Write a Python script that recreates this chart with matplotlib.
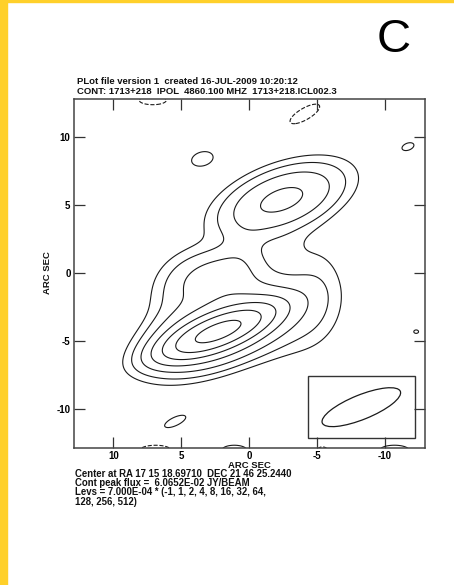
import numpy as np
import matplotlib
matplotlib.use("Agg")
import matplotlib.pyplot as plt
from matplotlib.patches import Ellipse, Rectangle

# ---- data: source components (arcsec, Jy/beam, image PA deg) ----
comp_name = ["S narrow", "S broad", "S ext", "left halo", "mid", "north", "right diffuse", "bridge",
             "east fill", "isl1", "isl2", "isl3", "isl4", "neg top R", "neg top L", "neg bot L",
             "pos bot C", "neg bot R", "pos bot R"]
comp_x    = [2.3, 2.3, -2.5, 5.3, 2.2, -2.4, -5.0, 0.5,
             -2.5, 3.45, -11.7, -12.3, 5.45, -4.1, 7.1, 6.9, 1.1, -5.4, -10.7]
comp_y    = [-4.3, -4.3, -3.0, -1.8, -0.4, 5.4, -1.2, 1.5,
             1.8, 8.4, 9.3, -4.3, -10.9, 11.7, 12.7, -13.0, -13.0, -13.0, -13.0]
comp_amp  = [0.045, 0.0145, 0.0015, 0.0012, 0.0040, 0.0066, 0.0008, 0.0008,
             0.0005, 0.0010, 0.0010, 0.0009, 0.0010, -0.0011, -0.0009, -0.0009, 0.0009, -0.0008, 0.0009]
comp_smaj = [2.2, 2.9, 2.5, 2.0, 2.0, 2.8, 2.6, 1.5,
             1.3, 0.95, 0.53, 0.25, 1.0, 1.3, 1.4, 1.6, 1.3, 0.7, 1.5]
comp_smin = [0.65, 1.3, 2.0, 1.5, 1.3, 1.3, 1.4, 1.0,
             1.0, 0.6, 0.3, 0.18, 0.36, 0.45, 0.45, 0.5, 0.5, 0.45, 0.5]
comp_pa   = [21, 21, 22, 70, 8, 20, 85, 64,
             20, 15, 20, 0, 25, 30, 0, 0, 0, 0, 0]

lev_base = 7.000e-04
lev_mult = [-1, 1, 2, 4, 8, 16, 32, 64, 128, 256, 512]

x_ticks = [10, 5, 0, -5, -10]
y_ticks = [10, 5, 0, -5, -10]

beam_center = (-8.26, -9.85)
beam_major, beam_minor, beam_angle = 6.2, 1.8, 22
beam_box = (-4.35, -12.25, -7.57, -12.13)   # x0, x1, y0, y1

title_lines = ["PLot file version 1  created 16-JUL-2009 10:20:12",
               "CONT: 1713+218  IPOL  4860.100 MHZ  1713+218.ICL002.3"]
foot_lines = ["Center at RA 17 15 18.69710  DEC 21 46 25.2440",
              "Cont peak flux =  6.0652E-02 JY/BEAM",
              "Levs = 7.000E-04 * (-1, 1, 2, 4, 8, 16, 32, 64,",
              "128, 256, 512)"]

W, H = 454, 585
fig = plt.figure(figsize=(W / 100, H / 100), dpi=100)
fig.patch.set_facecolor("white")

# yellow border strips
fig.patches.append(Rectangle((0, 0), 7 / W, 1, transform=fig.transFigure, color="#FFD02A", zorder=0))
fig.patches.append(Rectangle((0, 1 - 1.5 / H), 1, 1.5 / H, transform=fig.transFigure, color="#FFD02A", zorder=0))

def px(x, y):
    return x / W, 1 - y / H

ax = fig.add_axes([74 / W, 1 - 448 / H, (425 - 74) / W, (448 - 99) / H])
xlim = (12.9, -12.95)
ylim = (-12.85, 12.8)

gx = np.linspace(-13.5, 13.5, 540)
gy = np.linspace(-13.5, 13.5, 540)
X, Y = np.meshgrid(gx, gy)
Z = np.zeros_like(X)
for x0, y0, a, sa, sb, pa in zip(comp_x, comp_y, comp_amp, comp_smaj, comp_smin, comp_pa):
    u = -(X - x0)
    v = Y - y0
    t = np.deg2rad(pa)
    aa = u * np.cos(t) + v * np.sin(t)
    bb = -u * np.sin(t) + v * np.cos(t)
    Z += a * np.exp(-0.5 * (aa ** 2 / sa ** 2 + bb ** 2 / sb ** 2))

levels = [lev_base * m for m in lev_mult]
ax.contour(X, Y, Z, levels=levels, colors="#1a1a1a", linewidths=0.8,
           negative_linestyles="dashed")

ax.set_xlim(*xlim)
ax.set_ylim(*ylim)
ax.set_xticks(x_ticks)
ax.set_yticks(y_ticks)
ax.set_xticklabels([str(v) for v in x_ticks])
ax.set_yticklabels([str(v) for v in y_ticks])
ax.tick_params(direction="in", length=8, width=0.9, color="#333333",
               top=True, right=True, labelsize=7, pad=2.5)
for lab in ax.get_xticklabels() + ax.get_yticklabels():
    lab.set_fontweight("bold")
    lab.set_family("Liberation Sans")
for s in ax.spines.values():
    s.set_linewidth(1.1)
    s.set_color("#444444")

# beam inset
bx0, bx1, by0, by1 = beam_box
ax.add_patch(Rectangle((bx0, by1), bx1 - bx0, by0 - by1, fill=False, lw=1.0, ec="#333333"))
ax.add_patch(Ellipse(beam_center, beam_major, beam_minor, angle=180 - beam_angle,
                     fill=False, lw=0.9, ec="#1a1a1a"))

tfont = dict(family="Liberation Sans", fontweight="bold", fontsize=6.8, color="#111111")
fig.text(*px(77, 81), title_lines[0], va="center", ha="left", **tfont)
fig.text(*px(77, 92), title_lines[1], va="center", ha="left", **tfont)

fig.text(*px(249, 466), "ARC SEC", va="center", ha="center", **tfont)
fig.text(*px(47, 273), "ARC SEC", va="center", ha="center", rotation=90, **tfont)

for i, line in enumerate(foot_lines):
    fig.text(*px(75, 474 + 9.2 * i), line, va="center", ha="left",
             **{**tfont, "fontsize": 6.9})

fig.text(*px(394, 40), "C", va="center", ha="center", family="Liberation Sans",
         fontsize=34, color="black")

fig.savefig("out.png", dpi=100)
